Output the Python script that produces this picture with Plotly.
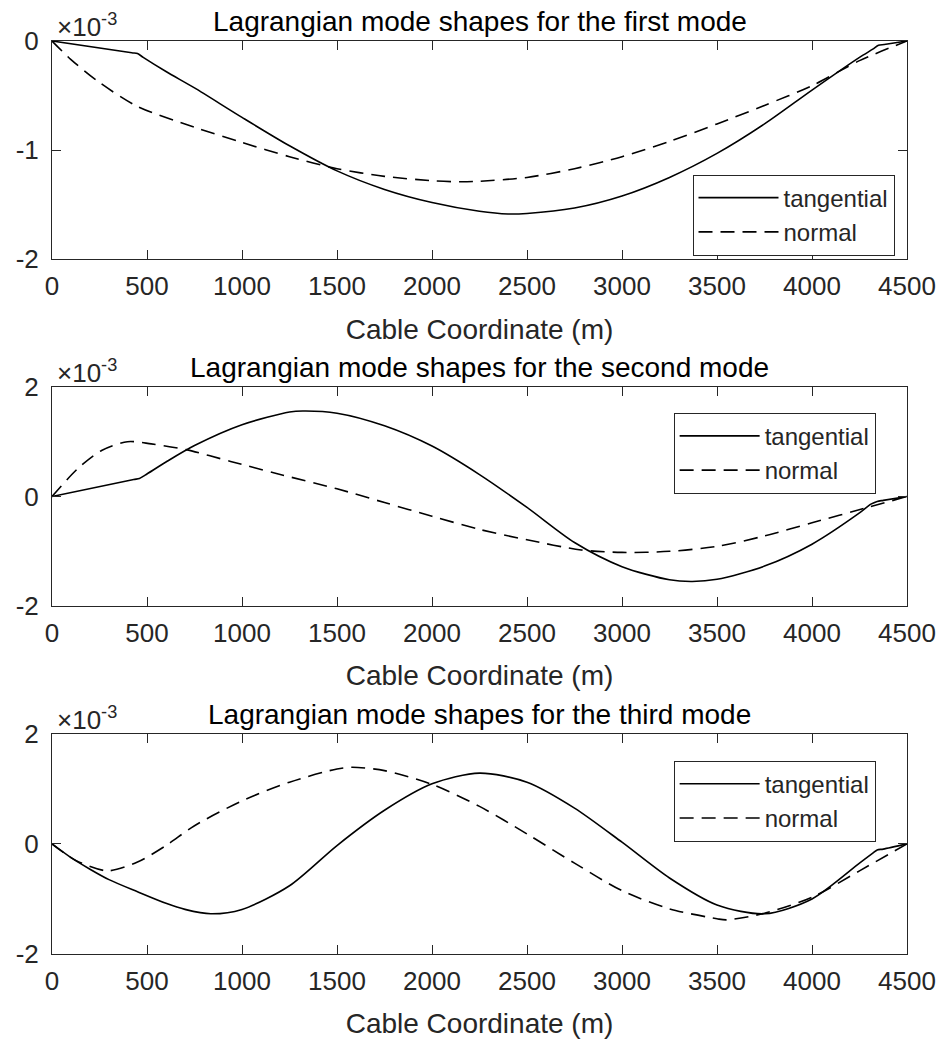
import plotly.graph_objects as go

# values in units of 1e-3 (axis shows x10^-3)
x_t1 = [0, 420, 450, 480, 600, 750, 1000, 1250, 1500, 1750, 2000, 2250, 2400, 2500, 2750, 3000, 3250, 3500, 3750, 4000, 4250, 4320, 4350, 4380, 4500]
y_t1 = [0, -0.107, -0.115, -0.15, -0.28, -0.43, -0.70, -0.96, -1.19, -1.36, -1.48, -1.56, -1.585, -1.58, -1.53, -1.42, -1.25, -1.03, -0.76, -0.45, -0.15, -0.075, -0.04, -0.032, 0]
x_n1 = [0, 100, 250, 450, 750, 1000, 1250, 1500, 1750, 2000, 2150, 2250, 2500, 2750, 3000, 3250, 3500, 3750, 4000, 4250, 4500]
y_n1 = [0, -0.17, -0.38, -0.60, -0.79, -0.93, -1.06, -1.17, -1.24, -1.28, -1.29, -1.285, -1.25, -1.17, -1.06, -0.92, -0.76, -0.59, -0.41, -0.18, 0]

x_t2 = [0, 430, 460, 490, 600, 750, 1000, 1250, 1320, 1500, 1750, 2000, 2250, 2500, 2750, 3000, 3250, 3370, 3500, 3750, 4000, 4250, 4310, 4343, 4375, 4500]
y_t2 = [0, 0.31, 0.33, 0.39, 0.63, 0.93, 1.31, 1.54, 1.56, 1.52, 1.29, 0.92, 0.40, -0.20, -0.84, -1.28, -1.52, -1.55, -1.51, -1.27, -0.87, -0.30, -0.14, -0.09, -0.07, 0]
x_n2 = [0, 136, 261, 397, 522, 705, 940, 1181, 1500, 1750, 2000, 2250, 2500, 2785, 3000, 3250, 3500, 3750, 4000, 4292, 4500]
y_n2 = [0, 0.51, 0.84, 1.00, 0.96, 0.855, 0.64, 0.42, 0.14, -0.11, -0.36, -0.60, -0.79, -0.975, -1.02, -1.00, -0.91, -0.72, -0.48, -0.20, 0]

x_t3 = [0, 100, 200, 300, 450, 600, 700, 836, 1000, 1250, 1500, 1750, 2000, 2250, 2500, 2750, 3000, 3250, 3500, 3752, 4000, 4250, 4320, 4343, 4375, 4500]
y_t3 = [0, -0.25, -0.46, -0.65, -0.87, -1.08, -1.19, -1.27, -1.19, -0.76, -0.03, 0.61, 1.09, 1.285, 1.12, 0.65, 0.03, -0.62, -1.11, -1.27, -1.00, -0.35, -0.17, -0.11, -0.095, 0]
x_n3 = [0, 125, 293, 450, 600, 750, 1000, 1250, 1500, 1580, 1750, 2000, 2250, 2500, 2750, 3000, 3250, 3500, 3550, 3750, 4000, 4250, 4500]
y_n3 = [0, -0.30, -0.49, -0.33, -0.03, 0.33, 0.78, 1.12, 1.36, 1.39, 1.33, 1.08, 0.68, 0.18, -0.35, -0.85, -1.18, -1.36, -1.38, -1.26, -0.97, -0.49, 0]

titles = ["Lagrangian mode shapes for the first mode",
          "Lagrangian mode shapes for the second mode",
          "Lagrangian mode shapes for the third mode"]
x_ticks = [0, 500, 1000, 1500, 2000, 2500, 3000, 3500, 4000, 4500]
y_ticks = [[-2, -1, 0], [-2, 0, 2], [-2, 0, 2]]
y_ticktext = [["-2", "-1", "0"], ["-2", "0", "2"], ["-2", "0", "2"]]
y_ranges = [[-2, 0], [-2, 2], [-2, 2]]
series = [(x_t1, y_t1, x_n1, y_n1), (x_t2, y_t2, x_n2, y_n2), (x_t3, y_t3, x_n3, y_n3)]

FONT = "Liberation Sans, Arial, Helvetica, sans-serif"
TXT = "#262626"
W, H = 948, 1046
ml, mr, mt, mb = 52, 35, 41, 89
ph = H - mt - mb
spans = [(41, 260), (388, 608), (736, 957)]
domains = [[(H - mb - b) / ph, (H - mb - t) / ph] for t, b in spans]
legend_pos = [(697, 175), (678, 414), (678, 763)]
pw = W - ml - mr

fig = go.Figure()
layout = dict(
    width=W, height=H,
    margin=dict(l=ml, r=mr, t=mt, b=mb),
    paper_bgcolor="white", plot_bgcolor="white",
    font=dict(family=FONT, color=TXT, size=26),
    annotations=[],
)

for i in range(3):
    n = "" if i == 0 else str(i + 1)
    xt, yt, xn, yn = series[i]
    lg = "legend" + n
    fig.add_trace(go.Scatter(x=xt, y=yt, mode="lines", name="tangential",
                             line=dict(color="black", width=1.6, shape="spline", smoothing=0.8),
                             xaxis="x" + n, yaxis="y" + n, legend=lg))
    fig.add_trace(go.Scatter(x=xn, y=yn, mode="lines", name="normal",
                             line=dict(color="black", width=1.6, dash="14px,8px", shape="spline", smoothing=0.8),
                             xaxis="x" + n, yaxis="y" + n, legend=lg))
    layout["xaxis" + n] = dict(
        domain=[0, 1], anchor="y" + n, range=[0, 4500], tickvals=x_ticks,
        ticks="inside", ticklen=9, tickcolor=TXT, mirror="ticks", showline=True,
        linecolor=TXT, linewidth=1, showgrid=False, zeroline=False,
        tickfont=dict(size=26), ticklabelstandoff=4,
        title=dict(text="Cable Coordinate (m)", font=dict(size=28), standoff=18),
    )
    layout["yaxis" + n] = dict(
        domain=domains[i], anchor="x" + n, range=y_ranges[i], tickvals=y_ticks[i],
        ticktext=y_ticktext[i],
        ticks="inside", ticklen=9, tickcolor=TXT, mirror="ticks", showline=True,
        linecolor=TXT, linewidth=1, showgrid=False, zeroline=False,
        tickfont=dict(size=26), ticklabelstandoff=7,
    )
    lx, ly = legend_pos[i]
    layout[lg] = dict(
        x=(lx - ml) / pw, y=(H - mb - ly) / ph, xanchor="left", yanchor="top",
        xref="paper", yref="paper",
        bgcolor="white", bordercolor=TXT, borderwidth=1,
        font=dict(size=24, color=TXT), itemwidth=80, tracegroupgap=0,
    )
    layout["annotations"].append(dict(
        text=titles[i], x=0.5, y=domains[i][1], xref="paper", yref="paper",
        xanchor="center", yanchor="bottom", yshift=2, showarrow=False,
        font=dict(size=28, color="#000"),
    ))
    layout["annotations"].append(dict(
        text="×10<sup>-3</sup>", x=0.003, y=domains[i][1],
        xref="paper", yref="paper",
        xanchor="left", yanchor="bottom", yshift=-3, showarrow=False,
        font=dict(size=26, color=TXT),
    ))

fig.update_layout(**layout)
fig.write_html("out.html")
